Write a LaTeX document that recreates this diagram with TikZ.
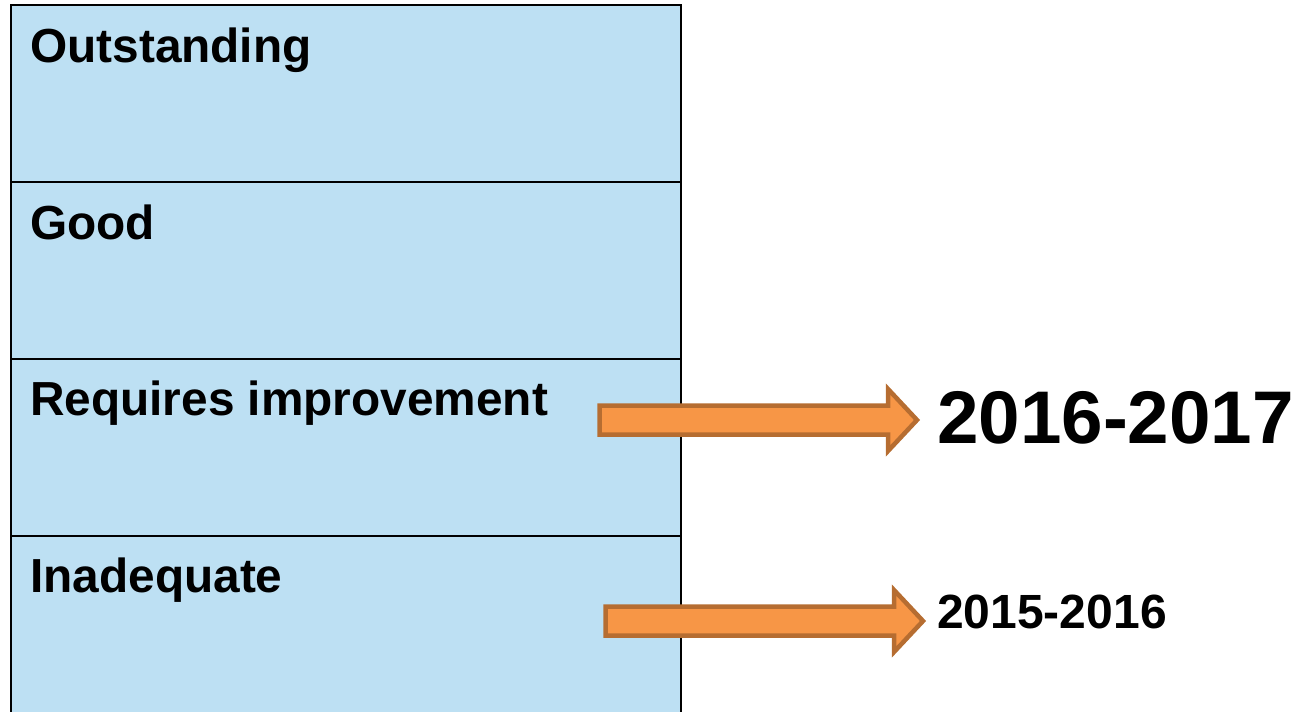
\documentclass[tikz,border=0pt]{standalone}
\usepackage{fontspec}
\setmainfont{Liberation Sans}
\definecolor{boxblue}{RGB}{189,224,243}
\definecolor{arrfill}{RGB}{247,150,70}
\definecolor{arrline}{RGB}{182,109,49}
\tikzset{
  rowbox/.style={draw=black, line width=2pt, fill=boxblue},
  rowlabel/.style={anchor=base west, inner sep=0pt, font=\bfseries\fontsize{47.8}{57}\selectfont},
  bigyear/.style={anchor=base west, inner sep=0pt, font=\bfseries\fontsize{74.6}{89}\selectfont},
  smallyear/.style={anchor=base west, inner sep=0pt, font=\bfseries\fontsize{48}{57}\selectfont},
  blockarrow/.style={draw=arrline, fill=arrfill, line width=4.5pt, line join=miter}
}
\begin{document}
\begin{tikzpicture}[x=1pt,y=-1pt]
\useasboundingbox (0,0) rectangle (1299,712);
\begin{scope}
\clip (0,0) rectangle (1299,712);
\path[rowbox] (11,5) rectangle (681,182);
\path[rowbox] (11,182) rectangle (681,359);
\path[rowbox] (11,359) rectangle (681,536);
\path[rowbox] (11,536) rectangle (681,730);
\end{scope}
\node[rowlabel] (out) at (30,62) {Outstanding};
\node[rowlabel] (good) at (30,239) {Good};
\node[rowlabel] (req) at (30,415) {Requires improvement};
\node[rowlabel] (inad) at (30,592) {Inadequate};
% arrow 1
\path[blockarrow] (599.5,405.5) -- (888,405.5) -- (888,389) -- (917,420) -- (888,451) -- (888,434.5) -- (599.5,434.5) -- cycle;
% arrow 2
\path[blockarrow] (605.5,606.5) -- (894,606.5) -- (894,590) -- (923,621) -- (894,652) -- (894,635.5) -- (605.5,635.5) -- cycle;
\node[bigyear] (y1) at (937,443) {2016-2017};
\node[smallyear] (y2) at (937,628) {2015-2016};
\end{tikzpicture}
\end{document}
